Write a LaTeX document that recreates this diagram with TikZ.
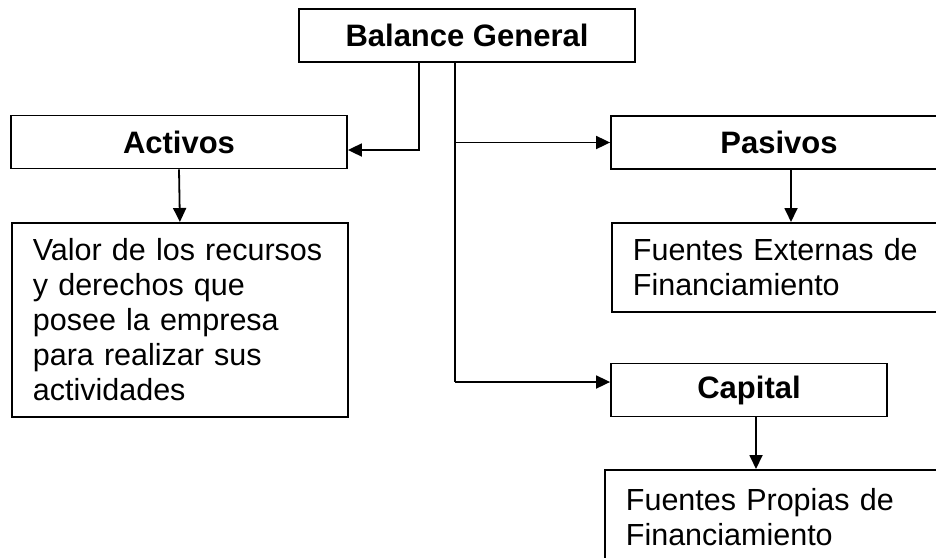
\documentclass[tikz,border=0pt]{standalone}
\usepackage{fontspec}
\setmainfont{Liberation Sans}
\usetikzlibrary{arrows.meta}
\hyphenpenalty=10000
\hbadness=10000
\hfuzz=50pt
\begin{document}
\begin{tikzpicture}[x=1pt,y=-1pt]
\tikzstyle{every node}+=[font=\fontsize{30.5}{35}\selectfont]
\tikzstyle{titlebox}=[draw=black,line width=1.8pt,font=\fontsize{31}{35}\selectfont\bfseries,inner sep=0pt,minimum height=53pt]
\tikzstyle{textbox}=[draw=black,line width=1.8pt,anchor=north west,align=left,text width=294pt,inner xsep=21pt,inner ysep=15pt]
\tikzstyle{link}=[line width=1.8pt,-{Triangle[length=14pt,width=13pt]}]
\useasboundingbox (0,0) rectangle (936,557);
\clip (0,0) rectangle (936,557);
\node[titlebox,minimum width=336pt] (balance) at (467,35.5) {Balance General};
\node[titlebox,minimum width=336pt] (activos) at (179,142) {Activos};
\node[titlebox,minimum width=336pt] (pasivos) at (779,142.5) {Pasivos};
\node[titlebox,minimum width=276pt] (capital) at (749,390) {Capital};
\node[textbox,minimum height=194pt] (valor) at (11,222) {Valor de los recursos\\y derechos que\\posee la empresa\\para realizar sus\\actividades};
\node[textbox,minimum height=89pt] (externas) at (611,222) {Fuentes Externas de\\Financiamiento};
\node[textbox,minimum height=94pt] (propias) at (604,469) {Fuentes Propias de\\Financiamiento};
\coordinate (lj) at (419,150);
\coordinate (rj) at (455,382);
\draw[link] (lj |- balance.south) -- (lj) -- (lj -| activos.east);
\draw[line width=1.8pt] (rj |- balance.south) -- (rj);
\draw[link] (rj |- pasivos.west) -- (pasivos.west);
\draw[link] (rj) -- (rj -| capital.west);
\draw[link] (activos.south) -- (valor.north);
\draw[link] ([xshift=12pt]pasivos.south) -- ([xshift=12pt]pasivos.south |- externas.north);
\draw[link] ([xshift=7pt]capital.south) -- ([xshift=7pt]capital.south |- propias.north);
\end{tikzpicture}
\end{document}
